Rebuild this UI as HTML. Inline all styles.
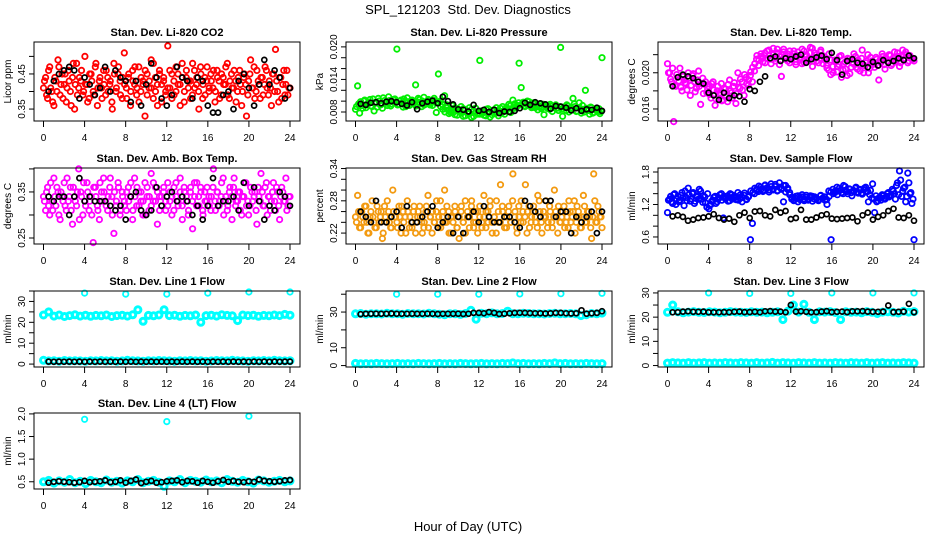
<!DOCTYPE html>
<html><head><meta charset="utf-8">
<style>
html,body{margin:0;padding:0;background:#fff;}
svg{display:block;font-family:"Liberation Sans",Arial,sans-serif;}
</style></head>
<body>
<svg id="chart" width="936" height="540" viewBox="0 0 936 540" xmlns="http://www.w3.org/2000/svg">
<rect x="0" y="0" width="936" height="540" fill="#fff"/>
<text x="468" y="14" font-size="13" text-anchor="middle" style="white-space:pre">SPL_121203  Std. Dev. Diagnostics</text>
<text x="468" y="531" font-size="13" text-anchor="middle">Hour of Day (UTC)</text>
</svg>
<script>
// ---------- data ----------
const xTicks = [0,4,8,12,16,20,24];
const spikeHours = [4,8,12,16,20,24];

const co2Color = [.41,.44,.38,.47,.40,.36,.43,.49,.39,.45,.42,.37,.46,.40,.44,.35,.48,.41,.43,.39,
.50,.42,.38,.45,.40,.47,.36,.43,.41,.46,.39,.44,.42,.37,.48,.40,.45,.43,.38,.51,
.41,.44,.36,.46,.42,.39,.47,.40,.43,.33,.45,.41,.49,.38,.44,.42,.46,.37,.43,.40,
.53,.41,.45,.39,.47,.42,.36,.44,.40,.46,.43,.38,.48,.41,.44,.35,.45,.42,.39,.47,
.41,.43,.46,.40,.44,.38,.45,.42,.47,.39,.43,.41,.46,.37,.44,.42,.40,.45,.33,.43,
.49,.41,.38,.46,.42,.44,.39,.47,.41,.43,.36,.45,.52,.40,.44,.38,.46,.42,.39,.41];
const co2Color2 = [.43,.39,.46,.41,.37,.44,.40,.47,.42,.38,.45,.41,.43,.36,.48,.42,.39,.44,.46,.40,
.42,.37,.45,.43,.39,.48,.41,.44,.38,.42,.46,.40,.43,.35,.45,.41,.47,.39,.44,.42,
.38,.45,.40,.43,.47,.41,.37,.44,.42,.46,.39,.43,.41,.48,.40,.36,.45,.42,.44,.39,
.41,.46,.38,.43,.40,.45,.42,.48,.37,.44,.41,.43,.39,.46,.42,.40,.47,.38,.44,.43,
.40,.45,.41,.37,.46,.43,.39,.44,.42,.48,.38,.45,.41,.43,.40,.46,.36,.44,.42,.39,
.45,.41,.47,.40,.43,.38,.44,.42,.46,.39,.41,.45,.40,.43,.37,.44,.42,.39,.46,.41];
const co2Black = [.40,.43,.45,.46,.47,.46,.38,.44,.42,.39,.41,.47,.40,.46,.44,.43,.37,.43,.36,.42,.48,.44,.38,.36,.39,.47,.44,.43,.38,.44,.43,.36,.34,.34,.39,.40,.35,.43,.45,.41,.36,.42,.49,.42,.46,.44,.38,.41];

const presColor = [.0085,.0128,.0078,.0092,.0100,.0088,.0095,.0103,.0090,.0082,.0098,.0105,.0093,.0087,.0101,.0096,.0108,.0091,.0099,.0104,
.0196,.0094,.0102,.0089,.0097,.0106,.0092,.0100,.0095,.0130,.0098,.0103,.0090,.0107,.0096,.0101,.0093,.0099,.0105,.0079,
.0150,.0100,.0094,.0110,.0088,.0083,.0079,.0092,.0075,.0086,.0081,.0090,.0072,.0084,.0078,.0088,.0070,.0082,.0087,.0076,
.0175,.0080,.0074,.0085,.0078,.0071,.0083,.0077,.0088,.0073,.0081,.0090,.0076,.0084,.0094,.0079,.0102,.0087,.0092,.0170,
.0125,.0098,.0091,.0100,.0093,.0088,.0097,.0090,.0084,.0095,.0089,.0075,.0092,.0086,.0094,.0081,.0090,.0087,.0083,.0199,
.0072,.0088,.0093,.0080,.0086,.0105,.0090,.0082,.0097,.0078,.0085,.0120,.0083,.0076,.0088,.0079,.0084,.0080,.0077,.0180];
const presColor2 = [.0090,.0095,.0099,.0087,.0102,.0093,.0098,.0091,.0104,.0096,.0089,.0100,.0094,.0106,.0097,.0092,.0101,.0095,.0103,.0098,
.0093,.0100,.0096,.0104,.0090,.0099,.0094,.0102,.0097,.0091,.0105,.0095,.0100,.0093,.0098,.0103,.0096,.0092,.0101,.0097,
.0098,.0090,.0085,.0080,.0093,.0077,.0084,.0079,.0088,.0074,.0083,.0078,.0086,.0073,.0081,.0077,.0085,.0072,.0080,.0078,
.0076,.0082,.0079,.0073,.0086,.0080,.0075,.0084,.0078,.0082,.0087,.0079,.0083,.0089,.0081,.0092,.0086,.0095,.0090,.0097,
.0093,.0096,.0090,.0094,.0099,.0091,.0095,.0088,.0093,.0090,.0086,.0094,.0089,.0092,.0085,.0091,.0088,.0093,.0087,.0090,
.0085,.0089,.0083,.0091,.0087,.0084,.0095,.0081,.0088,.0086,.0092,.0080,.0087,.0083,.0089,.0078,.0085,.0082,.0086,.0081];
const presBlack = [.0095,.0093,.0097,.0098,.0096,.0099,.0100,.0098,.0095,.0092,.0098,.0085,.0096,.0099,.0101,.0096,.0108,.0100,.0094,.0085,.0084,.0081,.0093,.0082,.0084,.0080,.0084,.0078,.0081,.0080,.0082,.0087,.0097,.0093,.0098,.0096,.0094,.0086,.0091,.0090,.0088,.0083,.0087,.0082,.0085,.0084,.0088,.0082];

const tempColor = [.0210,.0200,.0190,.0146,.0185,.0195,.0205,.0180,.0192,.0188,.0200,.0175,.0197,.0190,.0183,.0202,.0165,.0194,.0187,.0178,
.0185,.0172,.0190,.0164,.0180,.0176,.0188,.0170,.0182,.0168,.0192,.0178,.0185,.0166,.0200,.0183,.0190,.0175,.0195,.0186,
.0197,.0190,.0202,.0215,.0208,.0218,.0212,.0222,.0216,.0225,.0210,.0220,.0213,.0226,.0218,.0196,.0223,.0215,.0221,.0211,
.0218,.0224,.0209,.0219,.0214,.0226,.0211,.0220,.0216,.0228,.0207,.0222,.0213,.0219,.0225,.0210,.0217,.0205,.0221,.0214,
.0200,.0212,.0207,.0218,.0195,.0210,.0204,.0216,.0199,.0211,.0221,.0206,.0214,.0202,.0225,.0208,.0213,.0200,.0217,.0209,
.0206,.0215,.0192,.0211,.0218,.0204,.0213,.0220,.0208,.0216,.0212,.0222,.0207,.0218,.0214,.0223,.0211,.0219,.0216,.0213];
const tempColor2 = [.0200,.0193,.0205,.0186,.0198,.0191,.0184,.0196,.0189,.0181,.0194,.0186,.0199,.0179,.0192,.0185,.0188,.0177,.0190,.0182,
.0176,.0188,.0181,.0171,.0185,.0178,.0169,.0183,.0174,.0187,.0180,.0172,.0189,.0177,.0184,.0193,.0181,.0198,.0188,.0192,
.0201,.0206,.0210,.0219,.0214,.0221,.0217,.0211,.0224,.0219,.0215,.0227,.0216,.0222,.0209,.0220,.0226,.0218,.0213,.0224,
.0215,.0221,.0212,.0223,.0217,.0210,.0224,.0218,.0213,.0222,.0227,.0216,.0220,.0211,.0223,.0219,.0214,.0208,.0203,.0198,
.0207,.0214,.0201,.0209,.0219,.0203,.0212,.0197,.0215,.0206,.0210,.0218,.0204,.0209,.0216,.0200,.0211,.0220,.0205,.0213,
.0210,.0217,.0208,.0214,.0221,.0209,.0216,.0212,.0219,.0210,.0223,.0214,.0218,.0211,.0225,.0216,.0220,.0213,.0217,.0215];
const tempBlack = [.0185,.0195,.0198,.0196,.0194,.0190,.0188,.0178,.0175,.0170,.0178,.0172,.0175,.0174,.0168,.0182,.0180,.0190,.0196,.0216,.0218,.0213,.0216,.0215,.0218,.0220,.0211,.0215,.0217,.0219,.0215,.0222,.0214,.0198,.0213,.0215,.0211,.0210,.0206,.0212,.0208,.0214,.0211,.0213,.0216,.0214,.0219,.0216];

const ambColor = [.34,.31,.36,.30,.33,.38,.32,.35,.29,.34,.37,.31,.33,.36,.28,.34,.32,.40,.35,.30,
.33,.37,.31,.34,.24,.36,.32,.29,.35,.38,.33,.31,.36,.34,.26,.32,.37,.30,.35,.33,
.31,.36,.34,.29,.38,.32,.35,.33,.30,.37,.34,.31,.39,.33,.36,.28,.34,.32,.35,.31,
.37,.33,.30,.36,.34,.32,.38,.29,.35,.33,.31,.36,.27,.34,.37,.32,.35,.30,.33,.36,
.32,.34,.40,.31,.35,.33,.37,.30,.34,.32,.36,.29,.38,.33,.35,.31,.34,.37,.32,.30,
.36,.33,.35,.28,.34,.39,.32,.36,.30,.34,.33,.37,.31,.35,.29,.36,.33,.38,.32,.34];
const ambColor2 = [.33,.35,.32,.37,.31,.34,.36,.30,.35,.33,.32,.38,.34,.31,.36,.33,.35,.29,.34,.37,
.32,.35,.33,.30,.36,.34,.31,.37,.33,.35,.32,.34,.38,.30,.35,.33,.36,.31,.34,.32,
.35,.33,.37,.31,.34,.36,.32,.35,.33,.30,.36,.34,.32,.37,.33,.35,.31,.34,.36,.33,
.32,.35,.34,.31,.37,.33,.35,.32,.36,.34,.30,.35,.33,.37,.32,.34,.36,.31,.35,.33,
.34,.31,.36,.33,.35,.32,.34,.38,.33,.31,.35,.34,.36,.32,.33,.35,.30,.34,.37,.33,
.32,.35,.34,.31,.36,.33,.35,.32,.37,.34,.31,.35,.33,.36,.32,.34,.35,.33,.31,.34];
const ambBlack = [.34,.33,.34,.34,.30,.34,.38,.33,.34,.33,.33,.33,.32,.31,.32,.29,.34,.35,.31,.30,.31,.36,.32,.34,.35,.33,.34,.33,.30,.32,.29,.32,.38,.32,.33,.33,.34,.31,.37,.32,.36,.33,.29,.32,.31,.35,.34,.32];

const rhColor = [.25,.29,.23,.26,.24,.27,.22,.25,.28,.24,.23,.26,.25,.21,.27,.24,.26,.23,.30,.25,
.24,.27,.22,.26,.25,.28,.23,.24,.26,.22,.25,.27,.24,.23,.26,.29,.25,.22,.24,.26,
.23,.28,.25,.30,.24,.26,.22,.25,.27,.23,.21,.26,.24,.28,.25,.23,.27,.24,.26,.22,
.25,.23,.29,.26,.24,.27,.22,.25,.28,.24,.31,.26,.23,.25,.27,.24,.33,.26,.22,.25,
.28,.24,.31,.26,.23,.25,.27,.24,.29,.26,.22,.25,.28,.24,.26,.23,.30,.25,.27,.24,
.26,.23,.25,.28,.24,.26,.22,.27,.25,.23,.29,.24,.26,.25,.21,.33,.24,.27,.25,.23];
const rhColor2 = [.24,.26,.23,.25,.27,.24,.22,.26,.25,.23,.27,.24,.26,.22,.25,.28,.24,.23,.26,.25,
.23,.25,.27,.24,.22,.26,.25,.23,.27,.24,.26,.25,.22,.24,.27,.23,.25,.26,.24,.28,
.25,.23,.26,.24,.27,.22,.25,.24,.26,.23,.25,.27,.24,.22,.26,.25,.28,.23,.24,.26,
.27,.24,.25,.23,.26,.28,.24,.25,.22,.26,.24,.27,.25,.23,.26,.24,.28,.25,.23,.27,
.24,.26,.25,.22,.27,.24,.26,.25,.23,.28,.24,.26,.25,.23,.27,.24,.25,.26,.22,.24,
.25,.27,.24,.23,.26,.25,.28,.24,.26,.23,.25,.27,.24,.26,.23,.25,.28,.24,.26,.25];
const rhBlack = [.26,.25,.24,.28,.24,.24,.25,.26,.23,.27,.24,.24,.25,.26,.27,.23,.24,.25,.22,.25,.22,.25,.26,.24,.27,.25,.24,.24,.25,.25,.24,.23,.28,.27,.26,.25,.28,.28,.25,.26,.26,.22,.25,.24,.25,.26,.22,.26];

const flowColor = [1.05,1.30,1.25,1.38,1.20,1.35,1.28,1.42,1.18,1.33,1.50,1.26,1.40,1.22,1.36,1.30,1.45,1.24,1.34,1.15,
1.12,1.20,1.28,1.35,1.25,1.32,1.40,0.95,1.30,1.36,1.27,1.38,1.33,1.29,1.42,1.31,1.25,1.37,1.30,1.34,
0.55,0.85,1.40,1.48,1.44,1.52,1.46,1.55,1.50,1.43,1.58,1.47,1.53,1.45,1.60,1.50,1.25,1.55,1.48,1.42,
1.30,1.28,1.35,1.25,1.32,1.38,1.27,1.33,1.30,1.36,1.26,1.34,1.31,1.29,1.37,1.32,1.28,1.20,1.35,0.55,
1.40,1.45,1.38,1.50,1.42,1.55,1.46,1.40,1.48,1.36,1.44,1.52,1.41,1.47,1.39,1.50,1.43,1.25,1.46,1.58,
1.05,1.25,1.32,1.28,1.36,1.30,1.40,1.34,1.38,1.45,1.30,1.60,1.82,1.35,1.50,1.25,1.78,1.40,1.22,0.55];
const flowColor2 = [1.28,1.35,1.22,1.40,1.30,1.25,1.37,1.32,1.45,1.27,1.38,1.30,1.42,1.26,1.34,1.48,1.30,1.36,1.23,1.40,
1.18,1.26,1.33,1.22,1.30,1.38,1.28,1.35,1.32,1.26,1.40,1.30,1.36,1.34,1.28,1.38,1.33,1.41,1.29,1.35,
1.45,1.42,1.50,1.46,1.54,1.48,1.44,1.56,1.51,1.47,1.53,1.49,1.57,1.46,1.52,1.48,1.55,1.43,1.50,1.38,
1.33,1.27,1.31,1.36,1.29,1.34,1.30,1.37,1.28,1.33,1.35,1.30,1.32,1.27,1.36,1.31,1.34,1.29,1.45,1.43,
1.48,1.42,1.52,1.45,1.47,1.40,1.53,1.44,1.49,1.42,1.46,1.50,1.43,1.48,1.41,1.47,1.52,1.44,1.38,1.32,
1.30,1.36,1.27,1.33,1.38,1.31,1.35,1.42,1.36,1.48,1.40,1.55,1.38,1.65,1.45,1.52,1.35,1.60,1.42,1.30];
const flowBlack = [0.98,1.00,0.97,0.90,0.92,0.95,0.96,0.98,1.02,0.95,0.92,0.94,0.88,1.00,1.05,0.95,1.07,1.08,1.00,0.98,1.10,1.05,1.08,0.93,0.95,1.10,0.92,0.92,0.96,1.00,1.02,0.94,0.93,0.94,0.95,0.96,0.89,1.00,1.05,0.92,0.97,1.00,1.08,1.12,0.96,0.95,1.00,0.90];

const line1Upper = [23.5,25,23,23.5,22.8,23.2,23.6,23,23.4,22.9,23.3,23.1,23.5,22.8,23.2,23.4,23,23.6,26,20.5,23.3,23.1,23.5,26,23.2,23.4,22.9,23.3,23.1,23.5,20,23.2,23.4,23,23.6,23.3,23.1,20.8,23.5,23.2,23.4,22.9,23.3,23.1,23.5,23.2,23.8,23.4];
const line1Lower = [1.8,1.5,1.6,1.4,1.7,1.5,1.6,1.5,1.4,1.6,1.5,1.7,1.5,1.6,1.4,1.5,1.8,1.6,1.5,1.4,1.6,1.5,1.7,1.6,1.5,1.4,1.6,1.5,1.7,1.5,1.6,1.4,1.5,1.7,1.6,1.5,1.8,1.6,1.5,1.4,1.6,1.5,1.7,1.5,1.8,1.6,1.5,1.6];
const line1Black = [1.2,1.1,1.2,1.1,1.2,1.1,1.2,1.1,1.2,1.1,1.2,1.1,1.2,1.1,1.2,1.1,1.2,1.1,1.2,1.1,1.2,1.1,1.2,1.1,1.2,1.1,1.2,1.1,1.2,1.1,1.2,1.1,1.2,1.1,1.2,1.1,1.2,1.1,1.2,1.1,1.2,1.1,1.2,1.1,1.2,1.1,1.2,1.2];
const line1Spikes = [34,33.5,33.5,34,34.5,34.5];

const line2Upper = [29,29.2,28.8,29.1,29,28.9,29.3,29,29.1,28.8,29.2,29,29.1,28.9,29.3,29,28.8,28.5,29.1,29,28.7,29.2,31,26,29.3,29.1,29.5,29,29.2,30.5,29.1,29,29.3,29.2,29,29.1,28.9,29.2,29.3,29,29.1,29.2,29,28,28.5,29.2,29,29.4];
const line2Lower = [1.2,1.0,1.1,1.0,1.2,1.1,1.0,1.1,1.2,1.0,1.1,1.0,1.2,1.1,1.0,1.1,1.2,1.0,1.1,1.0,1.2,1.1,1.0,1.1,1.2,1.0,1.1,1.0,1.2,1.1,1.5,1.1,1.2,1.0,1.1,1.0,1.2,1.1,1.5,1.1,1.2,1.0,1.1,1.0,1.2,1.1,1.0,1.1];
const line2Black = [28.8,29,29,29.1,29,29,29.2,29,29,29,29.1,29,29,29.1,29,28.9,29,29,29,29.1,28.9,29,29.5,29.5,29.3,30,29.5,28.9,29.1,29.3,29.5,29.6,29.5,29.4,29.3,29.3,29.2,29.3,29.5,29.5,29.3,29.2,29.3,31,29.1,29.3,29.5,30.5];
const line2Spikes = [40,40,40,40.2,40.3,40.5];

const line3Upper = [22,25,22.2,21.8,22.1,22.3,22,21.9,22.2,22.1,21.8,22,22.3,22.1,22,21.9,22.2,22,22.1,21.8,22,22.2,19,22.5,25,22.1,25.3,22,19,22.2,22.1,22.3,21.9,19,22.2,22,22.1,21.8,22.3,22,21.5,22.1,22.2,22,21.7,22.4,22.1,22.3];
const line3Lower = [1.0,1.2,1.1,1.0,1.2,1.0,1.1,1.2,1.0,1.1,1.0,1.2,1.1,1.0,1.2,1.1,1.0,1.2,1.0,1.1,1.3,1.0,1.2,1.1,1.0,1.2,1.1,1.0,1.2,1.0,1.1,1.0,1.2,1.1,1.0,1.2,1.1,1.0,1.2,1.0,1.1,1.2,1.0,1.1,1.0,1.2,1.1,1.0];
const line3Black = [22,22,22.3,22.4,22.2,22.2,22.3,22,22,22,22.1,22,22.2,22.3,22.1,22.1,22.2,22,22.4,22.5,22.3,22.3,22,25,22.3,22.4,22.2,22,22.1,22.3,22.5,22.1,22.2,22.3,22.1,22.4,22.4,22.5,22.3,22.2,22.2,22.3,24.8,22.1,22.2,22.3,25.5,22];
const line3Spikes = [30,29.8,29.8,30,30,30];

const line4Color = [.50,.53,.47,.52,.49,.55,.48,.51,.46,.53,.50,.48,.54,.49,.51,.47,.52,.50,.55,.48,.51,.53,.49,.40,.52,.50,.55,.48,.53,.51,.49,.54,.50,.52,.48,.55,.51,.49,.53,.50,.47,.54,.52,.49,.51,.53,.50,.52];
const line4Black = [.48,.50,.51,.50,.49,.48,.49,.52,.49,.50,.51,.53,.49,.50,.53,.48,.52,.55,.47,.50,.52,.48,.49,.51,.52,.53,.49,.52,.51,.48,.52,.50,.48,.51,.54,.50,.52,.50,.49,.51,.50,.55,.52,.51,.50,.51,.53,.54];
const line4SpikeHours = [4,12,20];
const line4Spikes = [1.88,1.83,1.95];

// ---------- drawing ----------
const NS = "http://www.w3.org/2000/svg";
const svg = document.getElementById("chart");
const colLeft = [34, 346, 658];
const rowBox = [[42,121],[168,244],[291,367],[413,489]];
const BOXW = 266;

function mk(tag, attrs, parent){
  const el = document.createElementNS(NS, tag);
  for (const k in attrs) el.setAttribute(k, attrs[k]);
  (parent || svg).appendChild(el);
  return el;
}

function panel(p){
  const L = colLeft[p.col], R = L + BOXW, T = rowBox[p.row][0], B = rowBox[p.row][1];
  const g = mk("g", {});
  
  
  const xs = h => (L + 9.5) + h * ((R - 10) - (L + 9.5)) / 24;
  const ys = v => B - (v - p.ymin) * (B - T) / (p.ymax - p.ymin);

  const title = mk("text", {x:(L+R)/2, y:T-6, "font-size":11, "font-weight":"bold", "text-anchor":"middle"}, g);
  title.textContent = p.title;
  
  

  const pts = mk("g", {}, g);
  
  

  function drawSeries(vals, color, timeFn, sname, r, sw){
    vals.forEach((v, i) => {
      const h = timeFn(i, vals.length);
      const c = mk("circle", {cx: xs(h).toFixed(1), cy: ys(v).toFixed(1), r: r, fill:"none", stroke: color, "stroke-width": sw}, pts);
      
      
    });
  }
  const evenT = (i, n) => i * 24 / (n - 1);
  const halfT = (i, n) => (i + 0.5) * 24 / n;
  const blackT = (i, n) => 0.5 + i * 23.5 / (n - 1);

  p.series.forEach(s => {
    if (s.black) drawSeries(s.vals, "#000", blackT, p.name + '-black', 2.5, 1.7);
    else {
      const tf = s.times ? (i => s.times[i]) : (s.half ? halfT : evenT);
      drawSeries(s.vals, s.color, tf, p.name + '-' + s.id, s.r || 2.7, s.sw || 1.8);
    }
  });

  const box = mk("rect", {x:L, y:T, width:BOXW, height:B-T, fill:"none", stroke:"#000", "stroke-width":1}, g);
  
  

  xTicks.forEach(h => {
    const x = xs(h);
    const tk = mk("line", {x1:x, x2:x, y1:B, y2:B+6, stroke:"#000"}, g);
    
    
    const lb = mk("text", {x:x, y:B+20, "font-size":10, "text-anchor":"middle"}, g);
    lb.textContent = h;
    
    
  });
  p.yticks.forEach(v => {
    const y = ys(v);
    const tk = mk("line", {x1:L-5, x2:L, y1:y, y2:y, stroke:"#000"}, g);
    
    
  });
  p.ylabels.forEach(s => {
    const y = ys(parseFloat(s));
    const lb = mk("text", {x:0, y:0, "font-size":10, "text-anchor":"middle", transform:`translate(${L-9},${y}) rotate(-90)`}, g);
    lb.textContent = s;
    
    
  });
  const yt = mk("text", {x:0, y:0, "font-size":10, "text-anchor":"middle", transform:`translate(${L-23},${(T+B)/2}) rotate(-90)`}, g);
  yt.textContent = p.ylab;
  
  
}

panel({name:"co2", col:0, row:0, title:"Stan. Dev. Li-820 CO2", ylab:"Licor ppm", ymin:0.316, ymax:0.541,
  yticks:[.35,.40,.45,.50], ylabels:["0.35","0.45"],
  series:[{id:"red", vals:co2Color, color:"#ff0000"},{id:"red-b", vals:co2Color2, color:"#ff0000", half:true},{black:true, vals:co2Black}]});
panel({name:"pressure", col:1, row:0, title:"Stan. Dev. Li-820 Pressure", ylab:"kPa", ymin:0.00634, ymax:0.0209,
  yticks:[.008,.010,.012,.014,.016,.018,.020], ylabels:["0.008","0.014","0.020"],
  series:[{id:"green", vals:presColor, color:"#00ee00"},{id:"green-b", vals:presColor2, color:"#00ee00", half:true},{black:true, vals:presBlack}]});
panel({name:"temp", col:2, row:0, title:"Stan. Dev. Li-820 Temp.", ylab:"degrees C", ymin:0.01467, ymax:0.0234,
  yticks:[.016,.018,.020,.022], ylabels:["0.016","0.020"],
  series:[{id:"magenta", vals:tempColor, color:"#ff00ff"},{id:"magenta-b", vals:tempColor2, color:"#ff00ff", half:true},{black:true, vals:tempBlack}]});
panel({name:"amb-box", col:0, row:1, title:"Stan. Dev. Amb. Box Temp.", ylab:"degrees C", ymin:0.237, ymax:0.402,
  yticks:[.25,.30,.35,.40], ylabels:["0.25","0.35"],
  series:[{id:"magenta", vals:ambColor, color:"#ff00ff"},{id:"magenta-b", vals:ambColor2, color:"#ff00ff", half:true},{black:true, vals:ambBlack}]});
panel({name:"gas-rh", col:1, row:1, title:"Stan. Dev. Gas Stream RH", ylab:"percent", ymin:0.1997, ymax:0.341,
  yticks:[.22,.24,.26,.28,.30,.32,.34], ylabels:["0.22","0.28","0.34"],
  series:[{id:"orange", vals:rhColor, color:"#f39a10"},{id:"orange-b", vals:rhColor2, color:"#f39a10", half:true},{black:true, vals:rhBlack}]});
panel({name:"sample-flow", col:2, row:1, title:"Stan. Dev. Sample Flow", ylab:"ml/min", ymin:0.47, ymax:1.874,
  yticks:[.6,.8,1.0,1.2,1.4,1.6,1.8], ylabels:["0.6","1.2","1.8"],
  series:[{id:"blue", vals:flowColor, color:"#0000ff"},{id:"blue-b", vals:flowColor2, color:"#0000ff", half:true},{black:true, vals:flowBlack}]});
panel({name:"line1-flow", col:0, row:2, title:"Stan. Dev. Line 1 Flow", ylab:"ml/min", ymin:-1.4, ymax:35,
  yticks:[0,5,10,15,20,25,30,35], ylabels:["0","10","20","30"],
  series:[{id:"cyan-upper", vals:line1Upper, color:"#00ffff", r:3, sw:3},{id:"cyan-lower", vals:line1Lower, color:"#00ffff", r:3, sw:3},
          {id:"cyan-spike", vals:line1Spikes, times:spikeHours, color:"#00ffff"},{black:true, vals:line1Black}]});
panel({name:"line2-flow", col:1, row:2, title:"Stan. Dev. Line 2 Flow", ylab:"ml/min", ymin:-0.8, ymax:41.8,
  yticks:[0,10,20,30,40], ylabels:["0","10","30"],
  series:[{id:"cyan-upper", vals:line2Upper, color:"#00ffff", r:3, sw:3},{id:"cyan-lower", vals:line2Lower, color:"#00ffff", r:3, sw:3},
          {id:"cyan-spike", vals:line2Spikes, times:spikeHours, color:"#00ffff"},{black:true, vals:line2Black}]});
panel({name:"line3-flow", col:2, row:2, title:"Stan. Dev. Line 3 Flow", ylab:"ml/min", ymin:-0.6, ymax:30.8,
  yticks:[0,5,10,15,20,25,30], ylabels:["0","10","20","30"],
  series:[{id:"cyan-upper", vals:line3Upper, color:"#00ffff", r:3, sw:3},{id:"cyan-lower", vals:line3Lower, color:"#00ffff", r:3, sw:3},
          {id:"cyan-spike", vals:line3Spikes, times:spikeHours, color:"#00ffff"},{black:true, vals:line3Black}]});
panel({name:"line4-flow", col:0, row:3, title:"Stan. Dev. Line 4 (LT) Flow", ylab:"ml/min", ymin:0.34, ymax:2.02,
  yticks:[.5,1.0,1.5,2.0], ylabels:["0.5","1.0","1.5","2.0"],
  series:[{id:"cyan", vals:line4Color, color:"#00ffff", r:3, sw:3},
          {id:"cyan-spike", vals:line4Spikes, times:line4SpikeHours, color:"#00ffff"},{black:true, vals:line4Black}]});
</script>
</body></html>
